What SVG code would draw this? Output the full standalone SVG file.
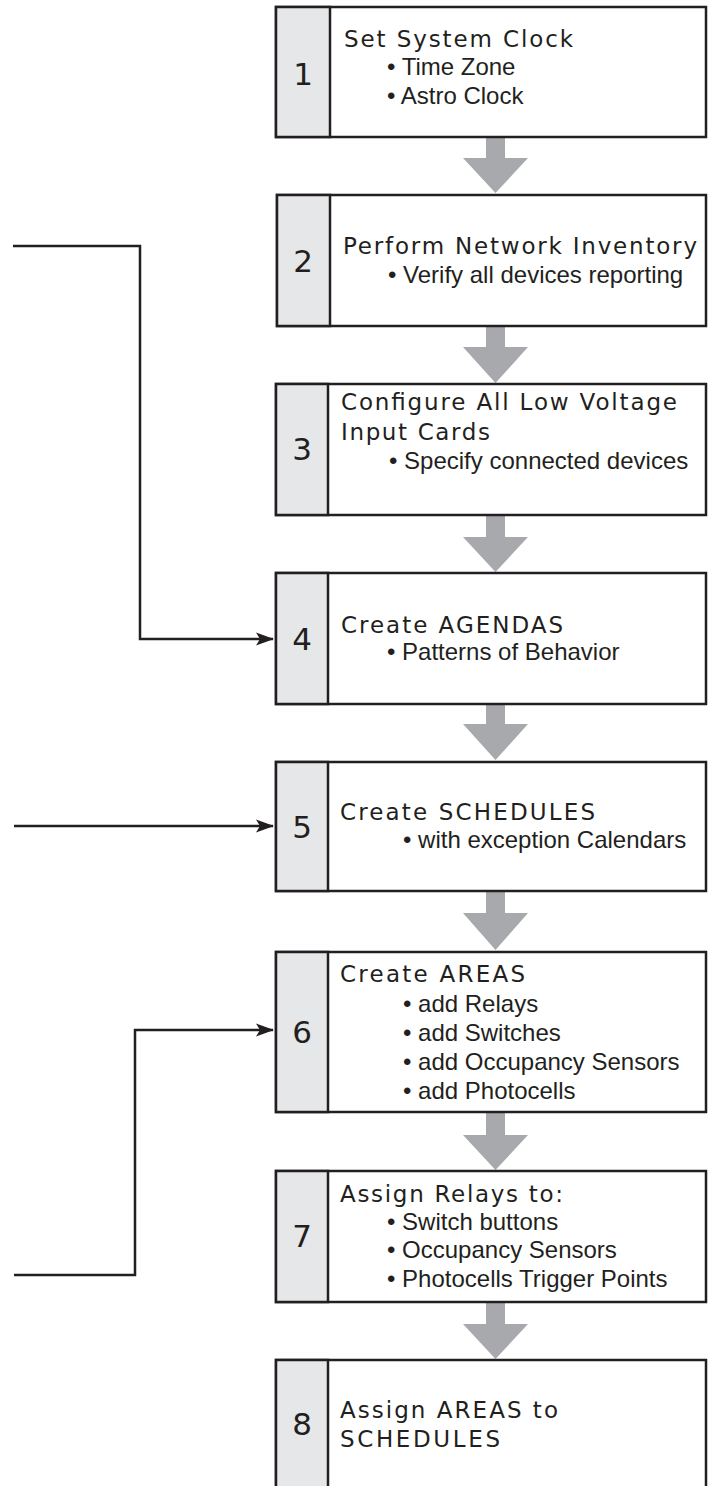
<svg xmlns="http://www.w3.org/2000/svg" width="712" height="1486" viewBox="0 0 712 1486">
<style>
.box{fill:#fff;stroke:#231f20;stroke-width:2.5}
.col{fill:#e6e7e8;stroke:#231f20;stroke-width:2.5}
.num{font-family:"DejaVu Sans",sans-serif;font-size:31px;fill:#231f20;text-anchor:middle}
.ttl{font-family:"DejaVu Sans",sans-serif;font-size:23px;fill:#231f20}
.bul{font-family:"Liberation Sans",Arial,sans-serif;font-size:24px;fill:#231f20}
.flow{fill:#a7a9ac}
.conn{fill:none;stroke:#231f20;stroke-width:2.5}
</style>
<defs>
<marker id="ah" markerUnits="userSpaceOnUse" markerWidth="18" markerHeight="14" refX="17" refY="7" orient="auto">
<path d="M0,0.5 L18,7 L0,13.5 L4,7 z" fill="#231f20"/>
</marker>
</defs>

<g id="flow-arrows">
<path class="flow" d="M486,138 H505 V158 H528 L495.5,193 L463,158 H486 Z"/>
<path class="flow" d="M486,327 H505 V347 H528 L495.5,383 L463,347 H486 Z"/>
<path class="flow" d="M486,516 H505 V537 H528 L495.5,572 L463,537 H486 Z"/>
<path class="flow" d="M486,705 H505 V724 H528 L495.5,760 L463,724 H486 Z"/>
<path class="flow" d="M486,892 H505 V913 H528 L495.5,950 L463,913 H486 Z"/>
<path class="flow" d="M486,1113 H505 V1135 H528 L495.5,1170 L463,1135 H486 Z"/>
<path class="flow" d="M486,1303 H505 V1324 H528 L495.5,1359 L463,1324 H486 Z"/>
</g>

<g id="connectors">
<path class="conn" d="M13,246 H140 V639 H273" marker-end="url(#ah)"/>
<path class="conn" d="M14,826 H273" marker-end="url(#ah)"/>
<path class="conn" d="M14,1275 H135 V1030 H273" marker-end="url(#ah)"/>
</g>

<g id="node1">
<rect class="box" x="276" y="7" width="430" height="130"/>
<rect class="col" x="276" y="7" width="54" height="130"/>
<text class="num" x="303" y="85">1</text>
<text class="ttl" x="344" y="47" textLength="229" lengthAdjust="spacing">Set System Clock</text>
<text class="bul" x="387" y="75">• Time Zone</text>
<text class="bul" x="387" y="104">• Astro Clock</text>
</g>

<g id="node2">
<rect class="box" x="277" y="195" width="429" height="131"/>
<rect class="col" x="277" y="195" width="53" height="131"/>
<text class="num" x="303" y="272">2</text>
<text class="ttl" x="343" y="254" textLength="354" lengthAdjust="spacing">Perform Network Inventory</text>
<text class="bul" x="388" y="283">• Verify all devices reporting</text>
</g>

<g id="node3">
<rect class="box" x="276" y="384" width="430" height="131"/>
<rect class="col" x="276" y="384" width="52" height="131"/>
<text class="num" x="302" y="460">3</text>
<text class="ttl" x="341" y="410" textLength="336" lengthAdjust="spacing">Configure All Low Voltage</text>
<text class="ttl" x="341" y="440" textLength="149" lengthAdjust="spacing">Input Cards</text>
<text class="bul" x="389" y="469">• Specify connected devices</text>
</g>

<g id="node4">
<rect class="box" x="276" y="573" width="430" height="131"/>
<rect class="col" x="276" y="573" width="52" height="131"/>
<text class="num" x="302" y="650">4</text>
<text class="ttl" x="341" y="633" textLength="222" lengthAdjust="spacing">Create AGENDAS</text>
<text class="bul" x="387" y="660">• Patterns of Behavior</text>
</g>

<g id="node5">
<rect class="box" x="276" y="762" width="430" height="129"/>
<rect class="col" x="276" y="762" width="52" height="129"/>
<text class="num" x="302" y="838">5</text>
<text class="ttl" x="340" y="820" textLength="255" lengthAdjust="spacing">Create SCHEDULES</text>
<text class="bul" x="403" y="848">• with exception Calendars</text>
</g>

<g id="node6">
<rect class="box" x="276" y="952" width="430" height="160"/>
<rect class="col" x="276" y="952" width="52" height="160"/>
<text class="num" x="302" y="1043">6</text>
<text class="ttl" x="340" y="982" textLength="185" lengthAdjust="spacing">Create AREAS</text>
<text class="bul" x="403" y="1012">• add Relays</text>
<text class="bul" x="403" y="1041">• add Switches</text>
<text class="bul" x="403" y="1070">• add Occupancy Sensors</text>
<text class="bul" x="403" y="1099">• add Photocells</text>
</g>

<g id="node7">
<rect class="box" x="276" y="1171" width="430" height="131"/>
<rect class="col" x="276" y="1171" width="52" height="131"/>
<text class="num" x="302" y="1247">7</text>
<text class="ttl" x="340" y="1202" textLength="223" lengthAdjust="spacing">Assign Relays to:</text>
<text class="bul" x="387" y="1230">• Switch buttons</text>
<text class="bul" x="387" y="1258">• Occupancy Sensors</text>
<text class="bul" x="387" y="1287">• Photocells Trigger Points</text>
</g>

<g id="node8">
<rect class="box" x="276" y="1360" width="430" height="140"/>
<rect class="col" x="276" y="1360" width="52" height="140"/>
<text class="num" x="302" y="1435">8</text>
<text class="ttl" x="340" y="1418" textLength="218" lengthAdjust="spacing">Assign AREAS to</text>
<text class="ttl" x="340" y="1447" textLength="160" lengthAdjust="spacing">SCHEDULES</text>
</g>
</svg>
